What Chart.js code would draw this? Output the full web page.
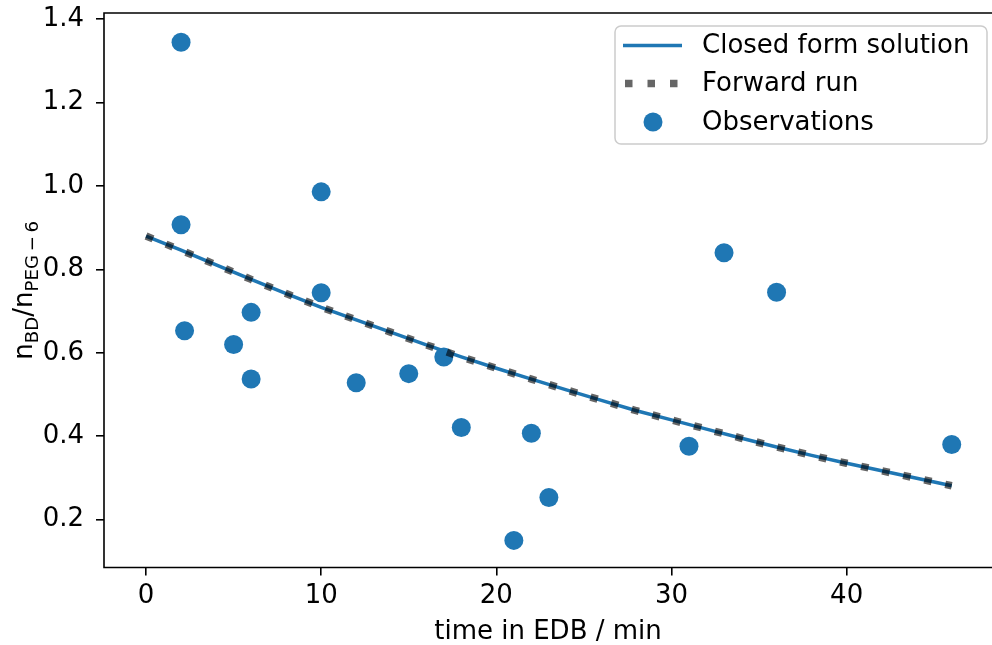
<!DOCTYPE html>
<html>
<head>
<meta charset="utf-8">
<script src="https://cdn.jsdelivr.net/npm/chart.js@4.4.0/dist/chart.umd.min.js"></script>
<style>
  body { margin: 0; background: #fff; }
  #wrap { width: 992px; height: 645px; }
</style>
</head>
<body>
<div id="wrap"><canvas id="myChart" width="992" height="645"></canvas></div>
<script>
// observations
var obsTime = [2, 2, 2.2, 5, 6, 6, 10, 10, 12, 15, 17, 18, 21, 22, 23, 31, 33, 36, 46];
var obsRatio = [1.345, 0.907, 0.653, 0.620, 0.697, 0.537, 0.986, 0.744, 0.528, 0.550, 0.590, 0.421, 0.150, 0.407, 0.253, 0.376, 0.840, 0.745, 0.380];

var modelTime = [0, 2, 4, 6, 8, 10, 12, 14, 16, 18, 20, 22, 24, 26, 28, 30, 32, 34, 36, 38, 40, 42, 44, 46];
var closedForm = [0.880, 0.846, 0.811, 0.776, 0.742, 0.709, 0.679, 0.649, 0.619, 0.590, 0.563, 0.537,
                  0.511, 0.486, 0.461, 0.439, 0.417, 0.395, 0.374, 0.354, 0.335, 0.317, 0.299, 0.281];
var forwardRun = [0.880, 0.846, 0.811, 0.776, 0.742, 0.709, 0.679, 0.649, 0.619, 0.590, 0.563, 0.537,
                  0.511, 0.486, 0.461, 0.439, 0.417, 0.395, 0.374, 0.354, 0.335, 0.317, 0.299, 0.281];

var xTicks = [0, 10, 20, 30, 40];
var yTicks = [0.2, 0.4, 0.6, 0.8, 1.0, 1.2, 1.4];

var blue = "#1f77b4";
var dotGray = "rgba(0,0,0,0.6)";
var FONT = "DejaVu Sans";
var FS = 26;

function pairs(xs, ys) {
  return xs.map(function (x, i) { return { x: x, y: ys[i] }; });
}

// spines, y label with subscripts, legend inside axes
var extras = {
  id: "extras",
  afterDraw: function (chart) {
    var ctx = chart.ctx, a = chart.chartArea;
    ctx.save();

    ctx.strokeStyle = "#000";
    ctx.lineWidth = 1.6;
    ctx.beginPath();
    ctx.moveTo(a.right + 5, a.top);
    ctx.lineTo(a.left, a.top);
    ctx.lineTo(a.left, a.bottom);
    ctx.lineTo(a.right + 5, a.bottom);
    ctx.stroke();

    // y axis title: n_BD / n_PEG-6
    var parts = [["n", 0], ["BD", 1], ["/n", 0], ["PEG\u2009\u2212\u20096", 1]];
    var subFS = FS * 0.7;
    var total = 0;
    parts.forEach(function (p) {
      ctx.font = (p[1] ? subFS : FS) + "px '" + FONT + "'";
      total += ctx.measureText(p[0]).width;
    });
    ctx.translate(32, (a.top + a.bottom) / 2);
    ctx.rotate(-Math.PI / 2);
    ctx.fillStyle = "#000";
    ctx.textBaseline = "alphabetic";
    var cx = -total / 2;
    parts.forEach(function (p) {
      ctx.font = (p[1] ? subFS : FS) + "px '" + FONT + "'";
      ctx.fillText(p[0], cx, p[1] ? FS * 0.22 : 0);
      cx += ctx.measureText(p[0]).width;
    });
    ctx.setTransform(1, 0, 0, 1, 0, 0);

    // legend box
    var bx = a.right - 377, by = a.top + 13, bw = 372, bh = 118, r = 6;
    ctx.beginPath();
    ctx.roundRect(bx, by, bw, bh, r);
    ctx.fillStyle = "rgba(255,255,255,0.8)";
    ctx.fill();
    ctx.strokeStyle = "#cccccc";
    ctx.lineWidth = 1.5;
    ctx.stroke();

    var rows = [by + 19.5, by + 57.5, by + 96];
    // closed form
    ctx.beginPath();
    ctx.strokeStyle = blue;
    ctx.lineWidth = 3.5;
    ctx.moveTo(bx + 8, rows[0]);
    ctx.lineTo(bx + 67, rows[0]);
    ctx.stroke();
    // forward run
    ctx.beginPath();
    ctx.strokeStyle = dotGray;
    ctx.lineWidth = 7.5;
    ctx.setLineDash([7.5, 15]);
    ctx.moveTo(bx + 10, rows[1]);
    ctx.lineTo(bx + 67, rows[1]);
    ctx.stroke();
    ctx.setLineDash([]);
    // observations
    ctx.beginPath();
    ctx.fillStyle = blue;
    ctx.arc(bx + 38, rows[2], 9.5, 0, Math.PI * 2);
    ctx.fill();

    ctx.fillStyle = "#000";
    ctx.font = FS + "px '" + FONT + "'";
    ctx.textBaseline = "middle";
    var labels = ["Closed form solution", "Forward run", "Observations"];
    labels.forEach(function (t, i) { ctx.fillText(t, bx + 87, rows[i] + 1); });

    ctx.restore();
  }
};

function noPad(s) {
  s.paddingTop = 0; s.paddingBottom = 0; s.paddingLeft = 0; s.paddingRight = 0;
}

new Chart("myChart", {
  type: "scatter",
  data: {
    datasets: [{
      label: "Forward run",
      data: pairs(modelTime, forwardRun),
      showLine: true,
      borderColor: dotGray,
      borderWidth: 7.5,
      borderDash: [7.5, 14],
      borderCapStyle: "butt",
      pointRadius: 0,
      order: 1
    }, {
      label: "Closed form solution",
      data: pairs(modelTime, closedForm),
      showLine: true,
      borderColor: blue,
      borderWidth: 3.5,
      pointRadius: 0,
      order: 2
    }, {
      label: "Observations",
      data: pairs(obsTime, obsRatio),
      backgroundColor: blue,
      borderWidth: 0,
      pointRadius: 9.5,
      order: 3
    }]
  },
  options: {
    responsive: false,
    animation: false,
    devicePixelRatio: 1,
    layout: { autoPadding: false, padding: { top: 13, left: 0, right: 0, bottom: 0 } },
    plugins: { legend: { display: false }, tooltip: { enabled: false } },
    scales: {
      x: {
        type: "linear",
        min: -2.4,
        max: 48.3,
        afterBuildTicks: function (s) { s.ticks = xTicks.map(function (v) { return { value: v }; }); },
        afterFit: function (s) { s.height = 77.5; noPad(s); },
        border: { display: false },
        grid: { drawOnChartArea: false, drawTicks: true, tickLength: 8, color: "#000", lineWidth: 1.6 },
        ticks: { font: { family: FONT, size: FS }, color: "#000", padding: 5, maxRotation: 0,
                 callback: function (v) { return String(v); } },
        title: { display: true, text: "time in EDB / min", color: "#000",
                 font: { family: FONT, size: FS }, padding: { top: 0, bottom: -3 } }
      },
      y: {
        type: "linear",
        min: 0.085,
        max: 1.415,
        afterBuildTicks: function (s) { s.ticks = yTicks.map(function (v) { return { value: v }; }); },
        afterFit: function (s) { s.width = 104; noPad(s); },
        border: { display: false },
        grid: { drawOnChartArea: false, drawTicks: true, tickLength: 8, color: "#000", lineWidth: 1.6 },
        ticks: { font: { family: FONT, size: FS }, color: "#000", padding: 12,
                 callback: function (v) { return v.toFixed(1); } }
      }
    }
  },
  plugins: [extras]
});
</script>
</body>
</html>
